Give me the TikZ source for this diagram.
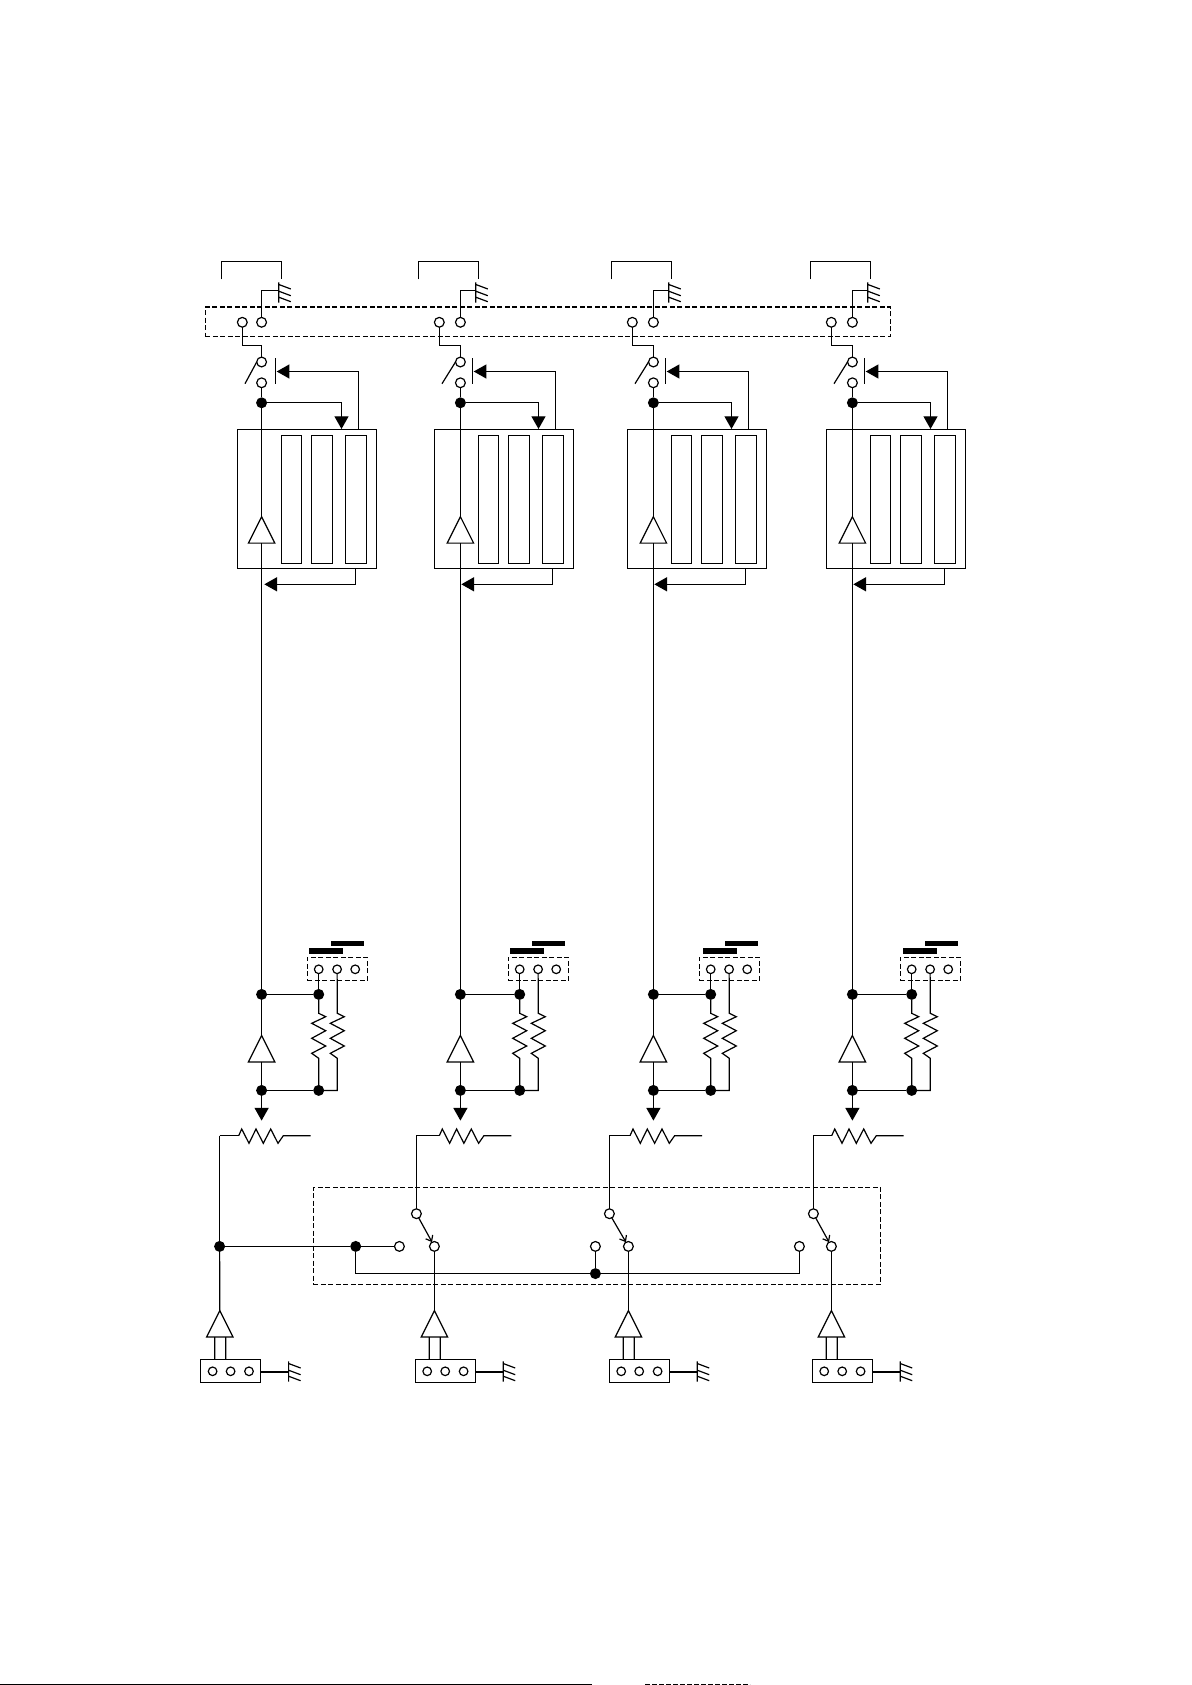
\documentclass[tikz,border=0pt]{standalone}
\usepackage{tikz}
\usetikzlibrary{arrows.meta,shapes.geometric}
\tikzset{%
  wiring/.style = {
    x=1pt, y=-1pt, line width=1.2pt, line join=miter,
    every node/.style = {inner sep=0pt, outer sep=0pt}
  },
  term/.style = {circle, draw, fill=white, minimum size=9.8pt},
  pinhole/.style = {circle, draw, fill=white, minimum size=8.6pt},
  dot/.style = {circle, fill=black, minimum size=11pt},
  block/.style = {rectangle, draw, anchor=north west},
  slot/.style = {block, minimum height=128pt},
  frame/.style = {block, dash pattern=on 5pt off 2.5pt},
  bar/.style = {rectangle, fill=black, anchor=north west},
  amp/.style = {isosceles triangle, draw, fill=white, anchor=apex,
    shape border rotate=90, isosceles triangle apex angle=53,
    isosceles triangle stretches, minimum width=26.4pt, minimum height=26.4pt},
  solid tip/.style = {-{Triangle[length=12.7pt,width=14pt]}},
  barb tip/.style = {-{Straight Barb[length=5pt,width=8pt]}}
}
\newcommand{\vzig}{-- ++(7,3.4) -- ++(-14,6.6) -- ++(14,7.4) -- ++(-14,7.6) -- ++(14,7.7) -- ++(-14,7.3) -- ++(7,5)}
\newcommand{\hzig}{-- ++(3,-6.7) -- ++(7.3,14.3) -- ++(7,-14.3) -- ++(7.3,14.3) -- ++(7.4,-14.3) -- ++(7.3,14.3) -- ++(5.3,-7.6)}
\newcommand{\hatch}[2]{\draw (#1) ++(0,#2) ++(0,-10.2) -- ++(0,20.4) (#1) ++(0,#2) ++(0,-8) -- ++(12,4.5) (#1) ++(0,#2) ++(0,-1.3) -- ++(12,4.5) (#1) ++(0,#2) ++(0,4.7) -- ++(12,4.5);}
\begin{document}
\begin{tikzpicture}[wiring]
	\useasboundingbox (0,0) rectangle (1191,1685);
	\node[frame, minimum width=685pt, minimum height=29.3pt] (topframe) at (205.3,307) {};
	\node[frame, minimum width=567.4pt, minimum height=97pt] (swframe) at (313.3,1187.3) {};

	\foreach \ch/\bx/\mx/\jx/\kx/\sx/\ax in {1/221.3/261.6/318.7/309/238.7/219.8, 2/418.3/460.4/519.7/510/439.3/434.4,
		3/611.3/653.4/710.7/703/630/628.4, 4/810.3/852.4/911.7/903/831.7/831.4} {
	  % top contacts and relay
	  \draw (\bx,279.3) |- (\bx+60,261.3) -- (\bx+60,279.3);
	  \node[term] (ca\ch) at (\bx+21,322.3) {};
	  \node[term] (cb\ch) at (\mx,322.3) {};
	  \coordinate (gt\ch) at (\bx+57.5,290.4);
	  \draw (cb\ch) |- (gt\ch);
	  \hatch{gt\ch}{2.1}
	  \node[term] (swt\ch) at (\mx,362) {};
	  \node[term] (swb\ch) at (\mx,382.8) {};
	  \node[dot] (jt\ch) at (\mx,402.8) {};
	  \coordinate (kn\ch) at (\mx,345.3);
	  \draw (ca\ch) |- (kn\ch) -- (swt\ch);
	  \draw (swb\ch) -- (jt\ch);
	  \coordinate (lev\ch) at (\bx+23.7,383.7);
	  \draw (lev\ch) -- (swt\ch.west);
	  \coordinate (rod\ch) at (\bx+54,358.3);
	  \draw (rod\ch) -- ++(0,25.4);

	  % memory block
	  \node[block, minimum width=139pt, minimum height=139pt] (mem\ch) at (\bx+16,429.3) {};
	  \node[slot, minimum width=20.4pt] (sla\ch) at (\bx+60,435.3) {};
	  \node[slot, minimum width=21.4pt] (slb\ch) at (\bx+90,435.3) {};
	  \node[slot, minimum width=21.4pt] (slc\ch) at (\bx+124,435.3) {};
	  \node[amp] (upa\ch) at (\mx,516.7) {};
	  \draw (jt\ch) -- (upa\ch.apex);
	  \coordinate (tipa\ch) at (\bx+120.2,429);
	  \draw[solid tip] (jt\ch) -| (tipa\ch);
	  \coordinate (risa\ch) at (\bx+137,429.3);
	  \coordinate (tipb\ch) at (\bx+55.4,371.5);
	  \draw[solid tip] (risa\ch) |- (tipb\ch);
	  \coordinate (risb\ch) at (\bx+134.4,568.3);
	  \coordinate (tipc\ch) at (\bx+43,584.3);
	  \draw[solid tip] (risb\ch) |- (tipc\ch);

	  % read amplifier and load resistors
	  \node[dot] (ja\ch) at (\mx,994.4) {};
	  \node[dot] (jb\ch) at (\jx,994.4) {};
	  \node[dot] (jc\ch) at (\mx,1090.4) {};
	  \node[dot] (jd\ch) at (\jx,1090.4) {};
	  \node[amp] (loa\ch) at (\mx,1035.5) {};
	  \draw (upa\ch.lower side) -- (ja\ch);
	  \draw (ja\ch) -- (jb\ch);
	  \draw (ja\ch) -- (loa\ch.apex);
	  \draw (loa\ch.lower side) -- (jc\ch);
	  \draw (jc\ch) -- (jd\ch);
	  \node[frame, minimum width=60pt, minimum height=23.4pt] (mf\ch) at (\jx-11.4,957.3) {};
	  \node[bar, minimum width=33pt, minimum height=5pt] (bu\ch) at (\kx+21.8,941) {};
	  \node[bar, minimum width=33.5pt, minimum height=6pt] (bl\ch) at (\kx,948) {};
	  \node[pinhole] (ma\ch) at (\jx,969.3) {};
	  \node[pinhole] (mb\ch) at (\jx+18.4,969.3) {};
	  \node[pinhole] (mc\ch) at (\jx+36.5,969.3) {};
	  \draw (ma\ch) -- (jb\ch);
	  \coordinate (ra\ch) at (\jx,1013.3);
	  \coordinate (rb\ch) at (\jx+18.6,1013.3);
	  \coordinate (rc\ch) at (\jx+18.6,1090.4);
	  \draw (jb\ch) -- (ra\ch) \vzig -- (jd\ch);
	  \draw (mb\ch) -- (rb\ch) \vzig -- (rc\ch) -- (jd\ch);
	  \coordinate (tipd\ch) at (\mx,1120.6);
	  \draw[solid tip] (jc\ch) -- (tipd\ch);

	  % input amplifier and header
	  \node[amp] (ina\ch) at (\ax,1310.6) {};
	  \node[block, minimum width=60pt, minimum height=23pt] (hd\ch) at (\ax-19.2,1359.3) {};
	  \node[pinhole] (ha\ch) at (\ax-7.2,1371.3) {};
	  \node[pinhole] (hb\ch) at (\ax+10.8,1371.3) {};
	  \node[pinhole] (hc\ch) at (\ax+29.2,1371.3) {};
	  \draw ([xshift=-5.1pt]ina\ch.lower side) -- ([xshift=-15.9pt]hd\ch.north);
	  \draw ([xshift=5.9pt]ina\ch.lower side) -- ([xshift=-4.9pt]hd\ch.north);
	  \coordinate (gb\ch) at (\ax+68.8,1372);
	  \draw (hd\ch.east |- gb\ch) -- (gb\ch);
	  \hatch{gb\ch}{-0.5}

	  % feedback resistor
	  \coordinate (rs\ch) at (\sx,1135.7);
	  \coordinate (re\ch) at (\sx+72,1135.7);
	  \draw (rs\ch) \hzig -- (re\ch);
	}

	% first channel has no switch
	\coordinate (cor1) at (219.6,1135.7);
	\node[dot] (jl) at (219.6,1246.4) {};
	\node[dot] (jm) at (355.7,1246.4) {};
	\draw (cor1) -- (rs1);
	\draw (cor1) -- (jl);
	\draw (jl) -- (ina1.apex);
	\draw (jl) -- (jm);

	% channel switches
	\foreach \ch/\vx/\ax/\ix in {2/416.4/434.4/399.4, 3/609.4/628.4/595.4, 4/813.4/831.4/799.4} {
	  \coordinate (cor\ch) at (\vx,1135.7);
	  \node[term] (swu\ch) at (\vx,1213.7) {};
	  \node[term] (swd\ch) at (\ax,1246.4) {};
	  \node[term] (swi\ch) at (\ix,1246.4) {};
	  \draw (rs\ch) -- (cor\ch) -- (swu\ch);
	  \draw[barb tip] (swu\ch) -- (swd\ch);
	  \draw (swd\ch) -- (ina\ch.apex);
	}
	\node[dot] (jn) at (595.4,1273.6) {};
	\coordinate (cc) at (799.4,1273.6);
	\draw (jm) |- (jn);
	\draw (jn) -- (cc) -- (swi4);
	\draw (jn) -- (swi3);
	\draw (jm) -- (swi2);

	% edge of the scan
	\coordinate (ea) at (0,1684.3);
	\coordinate (eb) at (592,1684.3);
	\draw (ea) -- (eb);
	\coordinate (ec) at (645,1684.6);
	\coordinate (ed) at (750,1684.6);
	\draw[line width=0.8pt, dash pattern=on 5pt off 2pt] (ec) -- (ed);
\end{tikzpicture}
\end{document}
